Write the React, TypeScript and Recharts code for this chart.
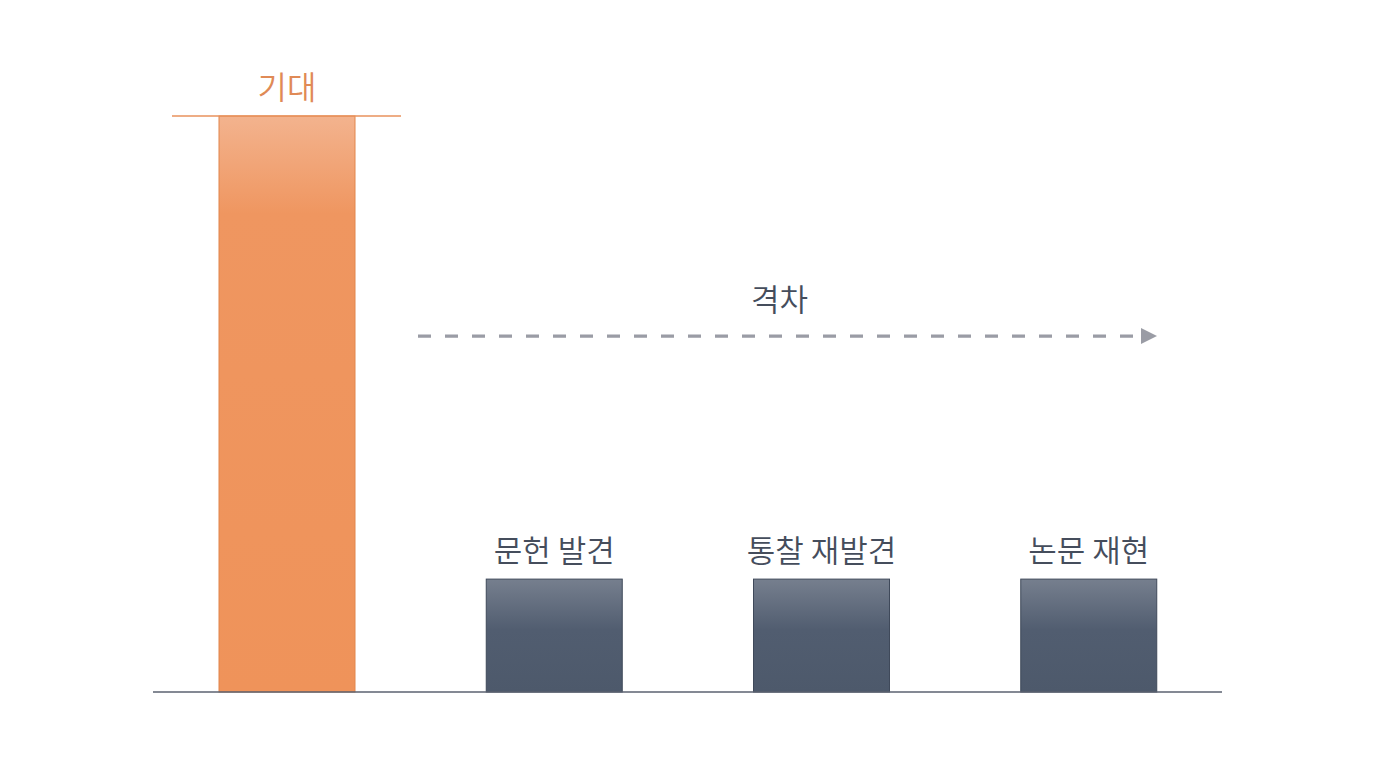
import React from "react";
import { Bar, BarChart, Cell, LabelList, ReferenceLine, XAxis, YAxis } from "recharts";

const categories = ["기대", "문헌 발견", "통찰 재발견", "논문 재현"];
const values = [100, 19.6, 19.6, 19.6];
const gapLevel = 61.8;
const gapLabel = "격차";

const data = categories.map((name, i) => ({ name, value: values[i] }));

const FONT = "'Noto Sans CJK KR', 'Noto Sans', sans-serif";

function BarShape(props: any) {
    const { x, y, width, height, index } = props;
    const first = index === 0;
    return (
        <g>
            <rect
                x={x}
                y={y}
                width={width}
                height={height}
                fill={first ? "url(#gradOrange)" : "url(#gradSlate)"}
                stroke={first ? "#E2864D" : "#3F495A"}
                strokeWidth={1}
            />
            {first && (
                <line x1={x - 47} x2={x + width + 46} y1={y} y2={y} stroke="#E8925C" strokeWidth={1.5} />
            )}
        </g>
    );
}

function TopLabel(props: any) {
    const { x, y, width, index, value } = props;
    const first = index === 0;
    return (
        <text
            x={x + width / 2}
            y={y - 17}
            textAnchor="middle"
            fontFamily={FONT}
            fontWeight={350}
            fontSize={first ? 32 : 31}
            fill={first ? "#E08A56" : "#454d5c"}>
            {value}
        </text>
    );
}

function GapArrow(props: any) {
    const { x1, x2, y1 } = props;
    const y = y1;
    const start = x1 + 265;
    const end = x2 - 65;
    return (
        <g>
            <line x1={start} x2={end - 15} y1={y} y2={y} stroke="#9a9ca5" strokeWidth={3.2} strokeDasharray="13 14" />
            <polygon points={`${end},${y} ${end - 16},${y - 8} ${end - 16},${y + 8}`} fill="#9a9ca5" />
            <text
                x={(start + end) / 2 - 8}
                y={y - 25}
                textAnchor="middle"
                fontFamily={FONT}
                fontWeight={350}
                fontSize={31}
                fill="#454d5c">
                {gapLabel}
            </text>
        </g>
    );
}

function App() {
    return (
        <div style={{ position: "absolute", left: 0, top: 0, width: 1376, height: 768, background: "#fff" }}>
            <BarChart
                width={1376}
                height={768}
                data={data}
                margin={{ top: 116, right: 154, bottom: 76, left: 153 }}>
                <defs>
                    <linearGradient id="gradOrange" x1="0" y1="0" x2="0" y2="1">
                        <stop offset="0%" stopColor="#F3B38E" />
                        <stop offset="17%" stopColor="#EF9660" />
                        <stop offset="100%" stopColor="#EF935A" />
                    </linearGradient>
                    <linearGradient id="gradSlate" x1="0" y1="0" x2="0" y2="1">
                        <stop offset="0%" stopColor="#767F8E" />
                        <stop offset="45%" stopColor="#515D70" />
                        <stop offset="100%" stopColor="#4D596B" />
                    </linearGradient>
                </defs>
                <XAxis dataKey="name" hide />
                <YAxis hide domain={[0, 100]} />
                <ReferenceLine y={gapLevel} shape={GapArrow} />
                <Bar dataKey="value" barSize={136} shape={BarShape} isAnimationActive={false}>
                    {data.map((d) => (
                        <Cell key={d.name} />
                    ))}
                    <LabelList dataKey="name" content={TopLabel} />
                </Bar>
                <ReferenceLine y={0} stroke="#5b6270" strokeWidth={1.5} />
            </BarChart>
        </div>
    );
}

export default App;
